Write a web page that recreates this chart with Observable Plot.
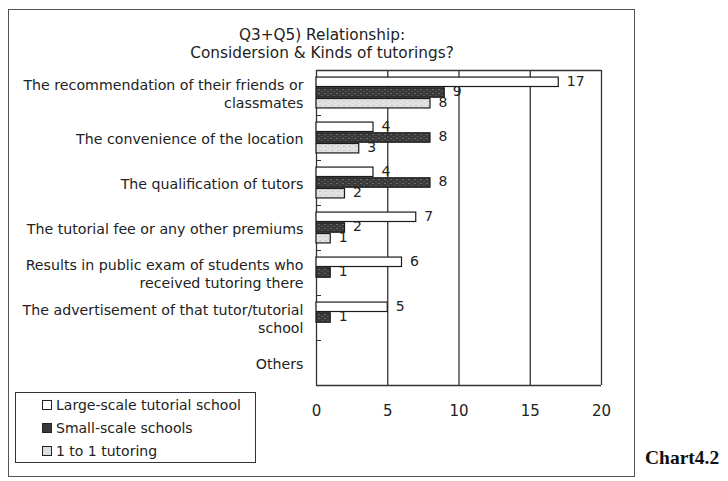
<!DOCTYPE html>
<html>
<head>
<meta charset="utf-8">
<script src="https://cdn.jsdelivr.net/npm/d3@7"></script>
<script src="https://cdn.jsdelivr.net/npm/@observablehq/plot@0.6"></script>
<style>
  html, body { margin: 0; padding: 0; background: #fff; }
  #wrap { position: relative; width: 728px; height: 481px; font-family: "DejaVu Sans", Verdana, sans-serif; color: #222; }
  #chart { position: absolute; left: 0; top: 0; }
  #frame { position: absolute; left: 8px; top: 9px; width: 627px; height: 468px; border: 1px solid #555; box-sizing: border-box; }
  #title { position: absolute; left: 8px; top: 26px; width: 628px; text-align: center; font-size: 15.3px; line-height: 18px; color: #222; }
  #legend { position: absolute; left: 15px; top: 392px; width: 241px; height: 71px; border: 1px solid #333; box-sizing: border-box; padding: 1px 0 0 26px; font-size: 14px; }
  #legend div { height: 23px; line-height: 23px; white-space: nowrap; }
  #legend span.sw { display: inline-block; width: 8px; height: 8px; border: 1px solid #222; margin-right: 4px; vertical-align: 0px; }
  #note { position: absolute; left: 645px; top: 447px; font-family: "Liberation Serif", "DejaVu Serif", serif; font-weight: bold; font-size: 19.5px; color: #111; }
</style>
</head>
<body>
<div id="wrap">
  <div id="chart"></div>
  <div id="frame"></div>
  <div id="title"></div>
  <div id="legend"></div>
  <div id="note">Chart4.2</div>
</div>
<script>
const titleLines = ["Q3+Q5) Relationship:", "Considersion & Kinds of tutorings?"];
const categories = [
  "The recommendation of their friends or classmates",
  "The convenience of the location",
  "The qualification of tutors",
  "The tutorial fee or any other premiums",
  "Results in public exam of students who received tutoring there",
  "The advertisement of that tutor/tutorial school",
  "Others"
];
const categoryLabels = [
  "The recommendation of their friends or\nclassmates",
  "The convenience of the location",
  "The qualification of tutors",
  "The tutorial fee or any other premiums",
  "Results in public exam of students who\nreceived tutoring there",
  "The advertisement of that tutor/tutorial\nschool",
  "Others"
];
const series = ["Large-scale tutorial school", "Small-scale schools", "1 to 1 tutoring"];
const largeScale = [17, 4, 4, 7, 6, 5, 0];
const smallScale = [9, 8, 8, 2, 1, 1, 0];
const oneToOne = [8, 3, 2, 1, 0, 0, 0];
const xTicks = [0, 5, 10, 15, 20];
const seriesColors = ["#ffffff", "#3a3a3a", "#dedede"];
const seriesFills = ["#ffffff", "url(#patDark)", "url(#patLight)"];

const seriesValues = [largeScale, smallScale, oneToOne];
const data = categories.flatMap((c, i) => series.map((s, j) => ({category: c, series: s, j, value: seriesValues[j][i]})));
const shown = data.filter(d => d.value > 0);

const pad = 0.6;               // outer padding of each group, in bar steps
const yMax = series.length + 2 * pad;
const inset = 0.06;

document.getElementById("title").innerHTML = titleLines.map(t => `<div>${t.replace("&", "&amp;")}</div>`).join("");
document.getElementById("legend").innerHTML = series.map((s, j) =>
  `<div><span class="sw" style="background:${seriesColors[j]}"></span>${s}</div>`).join("");

const chart = Plot.plot({
  width: 728,
  height: 481,
  marginLeft: 316,
  marginRight: 127,
  marginTop: 70,
  marginBottom: 96,
  style: {fontFamily: "DejaVu Sans, Verdana, sans-serif", fontSize: "15px", color: "#222", background: "transparent"},
  x: {domain: [0, 20], ticks: xTicks, tickSize: 0, tickPadding: 20, label: null, axis: "bottom"},
  y: {domain: [0, yMax], reverse: true, axis: null},
  fy: {domain: categories, padding: 0, axis: null},
  color: {domain: series, range: seriesFills},
  marks: [
    Plot.ruleX(xTicks, {stroke: "#333", strokeWidth: 1.3}),
    Plot.ruleY([0], {x1: 0, x2: 0.35, stroke: "#333"}),
    Plot.ruleY([categories[0]], {fy: d => d, y: () => 0, x1: 0, x2: 20, stroke: "#333", strokeWidth: 1.3}),
    Plot.ruleY([categories[categories.length - 1]], {fy: d => d, y: () => yMax, x1: 0, x2: 20, stroke: "#333", strokeWidth: 1.3}),
    Plot.rectX(shown, {
      fy: "category",
      x1: 0,
      x2: "value",
      y1: d => d.j + pad + inset,
      y2: d => d.j + pad + 1 - inset,
      fill: "series",
      stroke: "#1a1a1a",
      strokeWidth: 1.2
    }),
    Plot.text(shown, {
      fy: "category",
      x: "value",
      y: d => d.j + pad + 0.5,
      text: d => String(d.value),
      dx: 8,
      dy: -1,
      textAnchor: "start",
      fontSize: 14,
      fill: "#222"
    }),
    Plot.text(categories, {
      fy: d => d,
      text: (d, i) => categoryLabels[i],
      frameAnchor: "left",
      dx: -13,
      textAnchor: "end",
      lineHeight: 1.27,
      fontSize: 14.2,
      fill: "#222"
    })
  ]
});

// textures for the grey bars
const ns = "http://www.w3.org/2000/svg";
const defs = document.createElementNS(ns, "defs");
defs.innerHTML = `
  <pattern id="patDark" width="6" height="4" patternUnits="userSpaceOnUse">
    <rect width="6" height="4" fill="#3a3a3a"></rect>
    <rect x="0" y="1" width="2" height="1" fill="#6a6a6a"></rect>
    <rect x="3" y="3" width="2" height="1" fill="#555"></rect>
  </pattern>
  <pattern id="patLight" width="6" height="4" patternUnits="userSpaceOnUse">
    <rect width="6" height="4" fill="#e2e2e2"></rect>
    <rect x="1" y="1" width="2" height="1" fill="#c4c4c4"></rect>
    <rect x="4" y="3" width="1" height="1" fill="#cdcdcd"></rect>
  </pattern>`;
chart.insertBefore(defs, chart.firstChild);
document.getElementById("chart").appendChild(chart);
</script>
</body>
</html>
